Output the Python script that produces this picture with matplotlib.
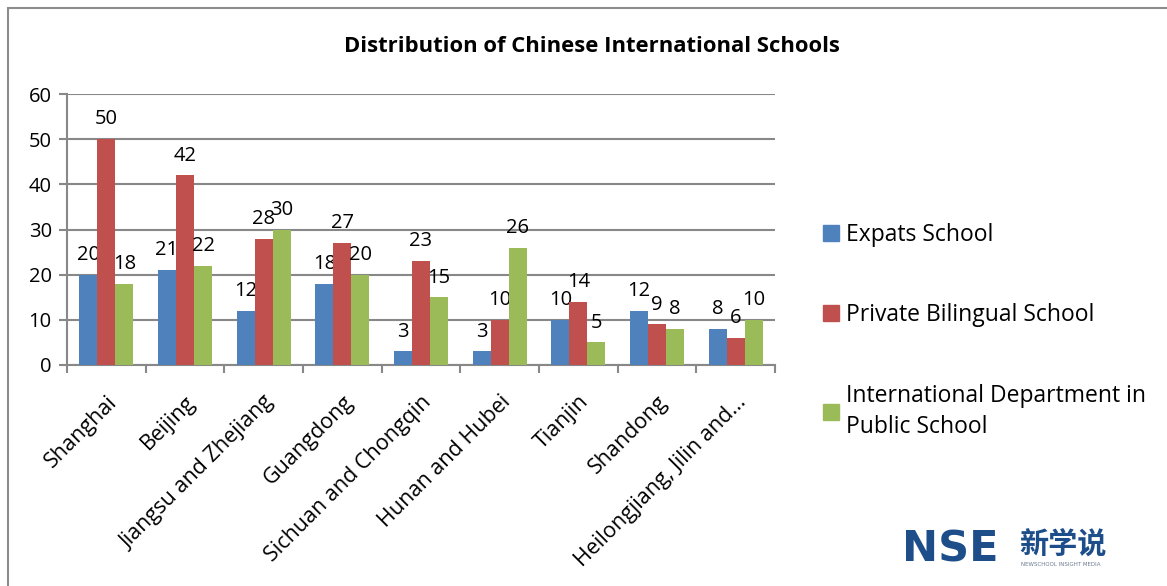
import numpy as np
import matplotlib.pyplot as plt
from matplotlib.patches import Rectangle
from matplotlib.lines import Line2D

plt.rcParams['font.family'] = ['Open Sans', 'Noto Sans CJK SC', 'DejaVu Sans']

# Data
regions = ["Shanghai", "Beijing", "Jiangsu and Zhejiang", "Guangdong",
           "Sichuan and Chongqin", "Hunan and Hubei", "Tianjin", "Shandong",
           "Heilongjiang, Jilin and..."]
expats = [20, 21, 12, 18, 3, 3, 10, 12, 8]
private_bilingual = [50, 42, 28, 27, 23, 10, 14, 9, 6]
intl_dept = [18, 22, 30, 20, 15, 26, 5, 8, 10]
series_names = ["Expats School", "Private Bilingual School",
                "International Department in\nPublic School"]
colors = ["#4F81BD", "#C0504D", "#9BBB59"]

W, H = 1167, 586
fig = plt.figure(figsize=(W / 100, H / 100), dpi=100)
ax = fig.add_axes([67 / W, 1 - 365 / H, (775 - 67) / W, (365 - 94) / H])

x = np.arange(len(regions))
bw = 0.23
grid_c = "#888888"
for i, (vals, c) in enumerate(zip([expats, private_bilingual, intl_dept], colors)):
    bars = ax.bar(x + (i - 1) * bw, vals, bw, color=c, zorder=3)
    ax.bar_label(bars, padding=7, fontsize=14.5)

ax.set_xlim(-0.5, len(regions) - 0.5)
ax.set_ylim(0, 60)
ax.set_yticks(range(0, 61, 10))
ax.yaxis.grid(True, color=grid_c, linewidth=1.5, zorder=0)
ax.tick_params(axis='y', labelsize=14.5, color=grid_c, width=1.5, length=6, pad=5)
ax.set_xticks(np.arange(-0.5, len(regions), 1.0), minor=False)
ax.set_xticklabels([])
ax.set_xticks(x, minor=True)
ax.set_xticklabels(regions, minor=True, rotation=45, ha='right',
                   rotation_mode='anchor', fontsize=15.5)
ax.tick_params(axis='x', which='minor', length=0, pad=19)
ax.tick_params(axis='x', which='major', color=grid_c, width=1.5, length=6)
for s in ['top', 'right']:
    ax.spines[s].set_visible(False)
for s in ['left', 'bottom']:
    ax.spines[s].set_color(grid_c)
    ax.spines[s].set_linewidth(1.5)

fig.text(592 / W, 1 - 46 / H, "Distribution of Chinese International Schools",
         ha='center', va='center', fontsize=15.8, fontweight='bold')

handles = [Line2D([], [], marker='s', linestyle='none', markersize=11,
                  markerfacecolor=c, markeredgecolor=c) for c in colors]
leg = fig.legend(handles, series_names, loc='center left',
                 bbox_to_anchor=(799 / W, 1 - 331 / H), frameon=False,
                 fontsize=16.5, labelspacing=2.45, handletextpad=0.15,
                 handlelength=1.0)
for t in leg.get_texts():
    t.set_linespacing(1.4)

# outer chart frame
fig.patches.append(Rectangle((8 / W, -0.1), 1.2, 1 - 8 / H + 0.1,
                             transform=fig.transFigure, fill=False,
                             edgecolor="#8c8c8c", linewidth=1.5))

# logo
fig.text(902 / W, 1 - 549 / H, "NSE", ha='left', va='center', fontsize=31,
         fontweight='heavy', color="#1E4E8A", family=['DejaVu Sans'])
fig.text(1019 / W, 1 - 544 / H, "新学说", ha='left', va='center', fontsize=21,
         fontweight='bold', color="#1E4E8A", family=['Noto Sans CJK SC'])
fig.text(1021 / W, 1 - 564 / H, "NEWSCHOOL INSIGHT MEDIA", ha='left', va='center',
         fontsize=4, color="#6a7a90", family=['DejaVu Sans'])

fig.savefig("out.png", dpi=100)
